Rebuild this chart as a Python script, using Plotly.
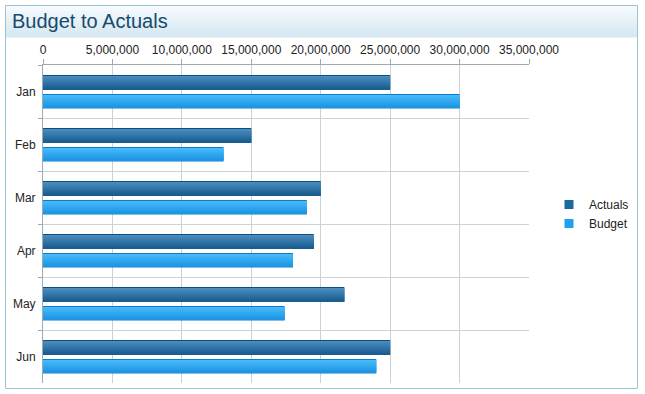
import plotly.graph_objects as go

months = ["Jan", "Feb", "Mar", "Apr", "May", "Jun"]
actuals = [25000000, 15000000, 20000000, 19500000, 21700000, 25000000]
budget = [30000000, 13000000, 19000000, 18000000, 17400000, 24000000]
x_ticks = [0, 5000000, 10000000, 15000000, 20000000, 25000000, 30000000, 35000000]

W, H = 645, 394
L, R, T, B = 43, 529, 65, 383
BAND = (B - T) / len(months)  # px per category


def px(x):
    return (x - L) / (R - L)


def py(y):
    return (B - y) / (B - T)


def mix(c1, c2, t):
    return "rgb(%d,%d,%d)" % tuple(int(round(c1[k] + (c2[k] - c1[k]) * t)) for k in range(3))


fig = go.Figure()


def add_grad_bar(values, top, bottom, border, c_top, c_bot):
    # top/bottom in px relative to band centre
    fig.add_trace(go.Bar(
        y=months, x=values, orientation="h", showlegend=False, hoverinfo="skip",
        offset=top / BAND, width=(bottom - top) / BAND,
        marker=dict(color=border, line=dict(width=0)),
    ))
    n = int(round(bottom - top - 2))
    for i in range(n):
        t = i / max(n - 1, 1)
        fig.add_trace(go.Bar(
            y=months, x=values, orientation="h", showlegend=False, hoverinfo="skip",
            offset=(top + 1 + i) / BAND, width=1.05 / BAND,
            marker=dict(color=mix(c_top, c_bot, t), line=dict(width=0)),
        ))


add_grad_bar(actuals, -16.5, -1.5, "#0c4f7f", (74, 140, 190), (26, 94, 145))
add_grad_bar(budget, 2.5, 17.0, "#0b7ccc", (70, 186, 250), (30, 150, 228))

# legend entries
fig.add_trace(go.Scatter(x=[None], y=[None], mode="markers", name="Actuals",
                         marker=dict(symbol="square", size=9, color="#1a69a0")))
fig.add_trace(go.Scatter(x=[None], y=[None], mode="markers", name="Budget",
                         marker=dict(symbol="square", size=9, color="#1ea1ef")))

shapes = []
top_c = (246, 250, 253)
bot_c = (212, 231, 242)
n = 16
y0p, y1p = 6, 37
for i in range(n):
    t = i / (n - 1)
    ya = y0p + (y1p - y0p) * i / n
    yb = y0p + (y1p - y0p) * (i + 1) / n
    shapes.append(dict(type="rect", xref="paper", yref="paper",
                       x0=px(6), x1=px(637), y0=py(ya), y1=py(yb + 0.5),
                       fillcolor=mix(top_c, bot_c, t), line=dict(width=0), layer="below"))
shapes.append(dict(type="rect", xref="paper", yref="paper",
                   x0=px(5.5), x1=px(637.5), y0=py(5.5), y1=py(388.5),
                   line=dict(color="#9cc3d8", width=1), fillcolor="rgba(0,0,0,0)"))

fig.update_layout(
    width=W, height=H,
    margin=dict(l=L, r=W - R, t=T, b=H - B),
    paper_bgcolor="white", plot_bgcolor="white",
    barmode="overlay",
    font=dict(family="Liberation Sans, Arial, sans-serif", size=12, color="#222222"),
    shapes=shapes,
    showlegend=True,
    legend=dict(x=px(549), y=py(190), xanchor="left", yanchor="top",
                font=dict(size=12, color="#222222"), itemwidth=30,
                tracegroupgap=0, bgcolor="rgba(0,0,0,0)"),
    annotations=[dict(text="Budget to Actuals", xref="paper", yref="paper",
                      x=px(10), y=py(21), xanchor="left", yanchor="middle",
                      showarrow=False,
                      font=dict(size=20, color="#174a6c",
                                family="Liberation Sans, Arial, sans-serif"))],
)
fig.update_xaxes(
    side="top", range=[0, 35000000], tickvals=x_ticks, automargin=False,
    tickformat=",d", showgrid=True, gridcolor="#c9d2d8", gridwidth=1,
    showline=True, linecolor="#9ea9b0", linewidth=1,
    ticks="outside", ticklen=5, tickcolor="#9ea9b0",
    zeroline=False, tickfont=dict(size=12, color="#222222"),
)
fig.update_yaxes(
    autorange="reversed", tickson="boundaries", showgrid=True, automargin=False,
    gridcolor="#c9d2d8", gridwidth=1, showline=True, linecolor="#9ea9b0",
    ticks="outside", ticklen=4, tickcolor="#9ea9b0",
    tickfont=dict(size=12, color="#222222"), ticklabelstandoff=4,
)
fig.write_html("out.html", config={"displayModeBar": False},
               post_script="document.body.style.margin='0';document.body.style.padding='0';"
                           "document.body.style.overflow='hidden';"
                           "document.documentElement.style.overflow='hidden';")
